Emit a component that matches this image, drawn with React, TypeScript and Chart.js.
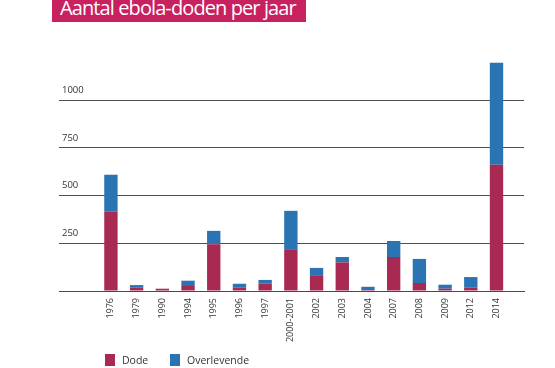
import React, { useEffect, useRef } from 'react';
import { Chart, registerables } from 'chart.js';

Chart.register(...registerables);

const title = 'Aantal ebola-doden per jaar';
const categories = ['1976', '1979', '1990', '1994', '1995', '1996', '1997', '2000-2001', '2002', '2003', '2004', '2007', '2008', '2009', '2012', '2014'];
const dode = [416, 17, 12, 31, 245, 17, 38, 219, 79, 150, 5, 178, 42, 12, 19, 661];
const overlevende = [193, 14, 0, 23, 70, 21, 20, 201, 42, 28, 17, 84, 126, 21, 54, 534];
const yTicks = [0, 250, 500, 750, 1000];
const seriesNames = ['Dode', 'Overlevende'];
const colors = ['#A82A52', '#2A74B3'];

export default function App() {
  const ref = useRef<HTMLCanvasElement | null>(null);

  useEffect(() => {
    document.body.style.margin = '0';
    document.body.style.background = '#ffffff';
    const canvas = ref.current;
    if (!canvas) return;
    const chart = new Chart(canvas, {
      type: 'bar',
      data: {
        datasets: [
          {
            label: seriesNames[0],
            data: dode.map((v, i) => ({ x: i, y: v })),
            backgroundColor: colors[0],
            borderWidth: 0,
            barPercentage: 0.52,
            categoryPercentage: 1,
          },
          {
            label: seriesNames[1],
            data: overlevende.map((v, i) => ({ x: i, y: v })),
            backgroundColor: colors[1],
            borderWidth: 0,
            barPercentage: 0.52,
            categoryPercentage: 1,
          },
        ],
      },
      options: {
        responsive: false,
        animation: false,
        maintainAspectRatio: false,
        layout: { padding: { left: 59, right: 31, top: 60, bottom: 0 } },
        plugins: {
          legend: { display: false },
          tooltip: { enabled: false },
          title: { display: false },
        },
        scales: {
          x: {
            type: 'linear',
            stacked: true,
            min: -2.02,
            max: 16.07,
            offset: false,
            afterBuildTicks: (s: any) => {
              s.ticks = categories.map((_, i) => ({ value: i }));
            },
            afterFit: (s: any) => {
              s.height = 77;
            },
            grid: { display: false, drawTicks: false },
            border: { display: true, color: '#4a4a4a', width: 1 },
            ticks: {
              autoSkip: false,
              minRotation: 90,
              maxRotation: 90,
              padding: 7,
              color: '#333333',
              font: { family: '"Open Sans", sans-serif', size: 9 },
              callback: (v: any) => categories[v] ?? '',
            },
          },
          y: {
            stacked: true,
            min: 0,
            max: 1210,
            afterBuildTicks: (s: any) => {
              s.ticks = yTicks.map((v) => ({ value: v }));
            },
            afterFit: (s: any) => {
              s.width = 0;
            },
            grid: { color: '#505050', lineWidth: 1, drawTicks: false },
            border: { display: false },
            ticks: {
              mirror: true,
              padding: 3,
              labelOffset: -10,
              color: '#333333',
              font: { family: '"Open Sans", sans-serif', size: 9.5 },
              callback: (v: any) => (v === 0 ? '' : String(v)),
            },
          },
        },
      },
    });
    return () => chart.destroy();
  }, []);

  const legendItem = (i: number, left: number) => (
    <div
      key={i}
      style={{
        position: 'absolute',
        left,
        top: 353,
        display: 'flex',
        alignItems: 'center',
        fontFamily: '"Open Sans", sans-serif',
        fontSize: 10.5,
        color: '#333333',
      }}
    >
      <span style={{ display: 'inline-block', width: 10, height: 12, background: colors[i], marginRight: 7 }} />
      <span>{seriesNames[i]}</span>
    </div>
  );

  return (
    <div style={{ position: 'relative', width: 555, height: 368, background: '#ffffff', overflow: 'hidden' }}>
      <canvas ref={ref} width={555} height={368} style={{ position: 'absolute', left: 0, top: 0 }} />
      <div
        style={{
          position: 'absolute',
          left: 52,
          top: -4,
          width: 254,
          height: 26,
          background: '#C72160',
          color: '#ffffff',
          fontFamily: '"Open Sans", sans-serif',
          fontSize: 20,
          lineHeight: '24px',
          paddingLeft: 8,
          boxSizing: 'border-box',
          whiteSpace: 'nowrap',
          letterSpacing: -0.9,
        }}
      >
        {title}
      </div>
      {legendItem(0, 105)}
      {legendItem(1, 170)}
    </div>
  );
}
